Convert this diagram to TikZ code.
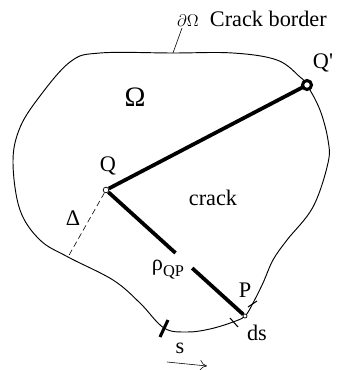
\documentclass[tikz,border=0pt]{standalone}
\usepackage{fontspec}
\setmainfont{Liberation Serif}
\usepackage{tikz}
\usetikzlibrary{positioning,arrows.meta,calc}

\begin{document}
\begin{tikzpicture}[
    every node/.style={font=\fontsize{19}{22}\selectfont},
    pt/.style={draw,circle,fill=white,inner sep=0pt,minimum size=0.17cm,line width=0.6pt},
    crackline/.style={line width=3.2pt},
    tick/.style={line width=0.9pt}]
  \useasboundingbox (0,0) rectangle (10.23,11.10);
  \coordinate (D) at (2.04,3.39);
  \coordinate (Pp) at (7.35,1.62);
  \coordinate (Qq) at (9.21,8.55);
  \draw[line width=0.8pt] plot [smooth cycle,tension=0.6] coordinates {(2.10,9.24) (3.00,9.51) (5.19,9.51) (6.99,9.51) (8.31,9.30) (9.00,8.79) (Qq) (9.60,7.80) (9.84,6.90) (9.84,6.21) (9.39,4.89) (8.61,3.90) (8.19,3.30) (7.89,2.61) (7.59,2.01) (Pp) (6.99,1.44) (6.30,1.23) (5.61,1.14) (4.92,1.26) (4.20,2.01) (3.39,2.70) (D) (1.20,3.90) (0.60,4.80) (0.39,6.21) (0.57,7.20) (1.11,8.10)};
  % crack
  \node[pt] (Q) at (3.18,5.40) {};
  \node[pt,minimum size=0.12cm] (P) at (Pp) {};
  \draw[crackline] (Q) -- (Qq);
  \draw[crackline] (Q) -- ($(Q)!0.5!(P)$);
  \draw[crackline] ($(Q)!0.62!(P)$) -- (P);
  \node[draw,circle,fill=white,inner sep=0pt,minimum size=0.27cm,line width=2.6pt] (Qprime) at (Qq) {};
  \draw[dashed,line width=0.5pt,dash pattern=on 5pt off 3pt] (Q) -- (D);
  % ticks on the border
  \draw[line width=2.6pt] (4.80,0.99) -- (5.04,1.50);
  \draw[tick] (6.90,1.56) -- (7.14,1.29);
  \draw[tick] (7.44,1.89) -- (7.71,2.07);
  \coordinate (s1) at (5.01,0.24);
  \coordinate (s2) at (6.21,0.12);
  \draw[-{To[length=6pt,width=9pt]},line width=0.5pt] (s1) -- (s2);
  % labels
  \coordinate (b1) at (5.46,10.26);
  \coordinate (b2) at (5.19,9.51);
  \draw[line width=0.5pt] (b1) -- (b2);
  \node[anchor=base west,inner sep=0pt] (border) at (5.31,10.32) {{\fontsize{15}{18}\selectfont$\partial\Omega$}\ \ Crack border};
  \node (omega) at (4.05,8.19) {\fontsize{24}{28}\selectfont Ω};
  \node (labQp) at (9.69,9.21) {Q\textquotesingle};
  \node (labQ) at (3.24,6.12) {Q};
  \node (crack) at (6.39,5.16) {crack};
  \node (delta) at (2.19,4.56) {Δ};
  \node (rho) at (5.04,3.00) {ρ\raisebox{-0.6ex}{\fontsize{14}{16}\selectfont QP}};
  \node (labP) at (7.35,2.40) {P};
  \node (ds) at (7.71,1.11) {ds};
  \node (s) at (5.40,0.66) {s};
\end{tikzpicture}
\end{document}
